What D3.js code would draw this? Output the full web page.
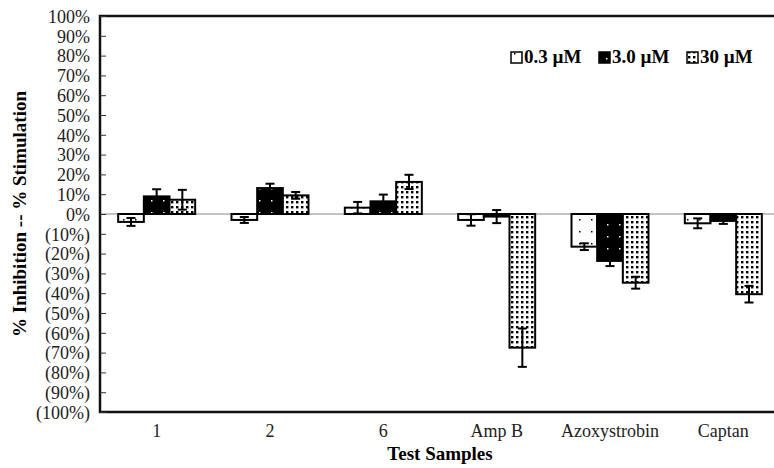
<!DOCTYPE html>
<html>
<head>
<meta charset="utf-8">
<script src="https://d3js.org/d3.v7.min.js"></script>
<style>
    html, body { margin: 0; padding: 0; overflow: hidden; background: #fff; }
    svg { font-family: "Liberation Serif", "Times New Roman", serif; }
    .tick text { font-size: 18px; fill: #222; }
</style>
</head>
<body>
<svg id="chart" width="774" height="468"></svg>
<script>
// values (fractions)
var samples = ["1", "2", "6", "Amp B", "Azoxystrobin", "Captan"];
var doses = ["0.3 \u00b5M", "3.0 \u00b5M", "30 \u00b5M"];
var low = [-0.04, -0.03, 0.032, -0.03, -0.165, -0.047];
var lowErr = [0.02, 0.015, 0.029, 0.029, 0.017, 0.025];
var mid = [0.089, 0.131, 0.064, -0.013, -0.237, -0.035];
var midErr = [0.036, 0.022, 0.034, 0.033, 0.026, 0.015];
var high = [0.072, 0.094, 0.162, -0.675, -0.347, -0.405];
var highErr = [0.05, 0.017, 0.036, 0.097, 0.03, 0.042];
var yTicks = d3.range(-1, 1.0001, 0.1);

var series = [
    {name: doses[0], vals: low, err: lowErr, fill: "url(#pLow)"},
    {name: doses[1], vals: mid, err: midErr, fill: "url(#pMid)"},
    {name: doses[2], vals: high, err: highErr, fill: "url(#pHigh)"}
];

var svg = d3.select("#chart");
var plotL = 100, plotR = 780, plotT = 16, plotB = 412;

var defs = svg.append("defs");
// sparse dots on white
var p1 = defs.append("pattern").attr("id", "pLow").attr("patternUnits", "userSpaceOnUse")
    .attr("width", 12).attr("height", 12);
p1.append("rect").attr("width", 12).attr("height", 12).attr("fill", "#fff");
p1.append("rect").attr("x", 3).attr("y", 3).attr("width", 1.5).attr("height", 1.5).attr("fill", "#000");
// black with sparse white dots
var p2 = defs.append("pattern").attr("id", "pMid").attr("patternUnits", "userSpaceOnUse")
    .attr("width", 12).attr("height", 12);
p2.append("rect").attr("width", 12).attr("height", 12).attr("fill", "#000");
p2.append("rect").attr("x", 7).attr("y", 8).attr("width", 1.5).attr("height", 1.5).attr("fill", "#fff");
// dense dots
var p3 = defs.append("pattern").attr("id", "pHigh").attr("patternUnits", "userSpaceOnUse")
    .attr("width", 5).attr("height", 5);
p3.append("rect").attr("width", 5).attr("height", 5).attr("fill", "#fff");
p3.append("rect").attr("x", 1).attr("y", 1).attr("width", 2.4).attr("height", 2.4).attr("fill", "#000");

var x = d3.scaleBand().domain(samples).range([plotL, plotR]);
var xs = d3.scaleBand().domain(doses).range([0, 77]);
var y = d3.scaleLinear().domain([-1, 1]).range([plotB, plotT]);

function pct(v) {
    var n = Math.round(Math.abs(v) * 100);
    return v < -0.001 ? "(" + n + "%)" : n + "%";
}

// zero line
svg.append("line")
    .attr("x1", plotL).attr("x2", plotR)
    .attr("y1", y(0)).attr("y2", y(0))
    .attr("stroke", "#888").attr("stroke-width", 1);

// bars
var groups = svg.selectAll("g.grp")
    .data(series)
    .enter().append("g").attr("class", "grp");

groups.each(function(s) {
    var g = d3.select(this);
    samples.forEach(function(c, i) {
        var bx = x(c) + x.bandwidth() / 2 - 38.5 + xs(s.name);
        var v = s.vals[i];
        g.append("rect")
            .attr("x", bx)
            .attr("y", y(Math.max(0, v)))
            .attr("width", xs.bandwidth())
            .attr("height", Math.abs(y(v) - y(0)))
            .attr("fill", s.fill)
            .attr("stroke", "#000").attr("stroke-width", 2);
        var cx = bx + xs.bandwidth() / 2;
        var e1 = y(v + s.err[i]), e2 = y(v - s.err[i]);
        g.append("line").attr("x1", cx).attr("x2", cx).attr("y1", e1).attr("y2", e2)
            .attr("stroke", "#000").attr("stroke-width", 2);
        [e1, e2].forEach(function(ey) {
            g.append("line").attr("x1", cx - 4.5).attr("x2", cx + 4.5).attr("y1", ey).attr("y2", ey)
                .attr("stroke", "#000").attr("stroke-width", 2);
        });
    });
});

// frame
svg.append("path")
    .attr("d", "M" + plotR + "," + plotT + "H" + plotL + "V" + plotB + "H" + plotR)
    .attr("fill", "none").attr("stroke", "#111").attr("stroke-width", 2.5);

// y axis
var yAxis = d3.axisLeft(y).tickValues(yTicks).tickFormat(pct).tickSize(-6).tickPadding(10);
var ya = svg.append("g").attr("transform", "translate(" + plotL + ",0)").call(yAxis)
    .attr("font-family", null).attr("font-size", null);
ya.select(".domain").remove();
ya.selectAll(".tick line").attr("stroke", "#333").attr("stroke-width", 1);
ya.selectAll(".tick text").attr("dy", "0.35em");

// x axis labels
var xa = svg.append("g").attr("transform", "translate(0," + plotB + ")")
    .call(d3.axisBottom(x).tickSize(0).tickPadding(12))
    .attr("font-family", null).attr("font-size", null);
xa.select(".domain").remove();
xa.selectAll(".tick text").attr("dy", "0.71em");

// titles
svg.append("text")
    .attr("x", 440).attr("y", 460)
    .attr("text-anchor", "middle")
    .style("font-size", "19px").style("font-weight", "bold")
    .text("Test Samples");

svg.append("text")
    .attr("transform", "translate(26,214) rotate(-90)")
    .attr("text-anchor", "middle")
    .style("font-size", "19px").style("font-weight", "bold")
    .text("% Inhibition -- % Stimulation");

// legend
var legX = [511, 599, 687];
var leg = svg.selectAll("g.leg")
    .data(series)
    .enter().append("g").attr("class", "leg")
    .attr("transform", function(d, i) { return "translate(" + legX[i] + ",50)"; });
leg.append("rect")
    .attr("width", 11).attr("height", 11).attr("y", 2)
    .attr("fill", function(d) { return d.fill; })
    .attr("stroke", "#000").attr("stroke-width", 1.5);
leg.append("text")
    .attr("x", 13).attr("y", 13)
    .style("font-size", "19px").style("font-weight", "bold")
    .text(function(d) { return d.name; });
</script>
</body>
</html>
